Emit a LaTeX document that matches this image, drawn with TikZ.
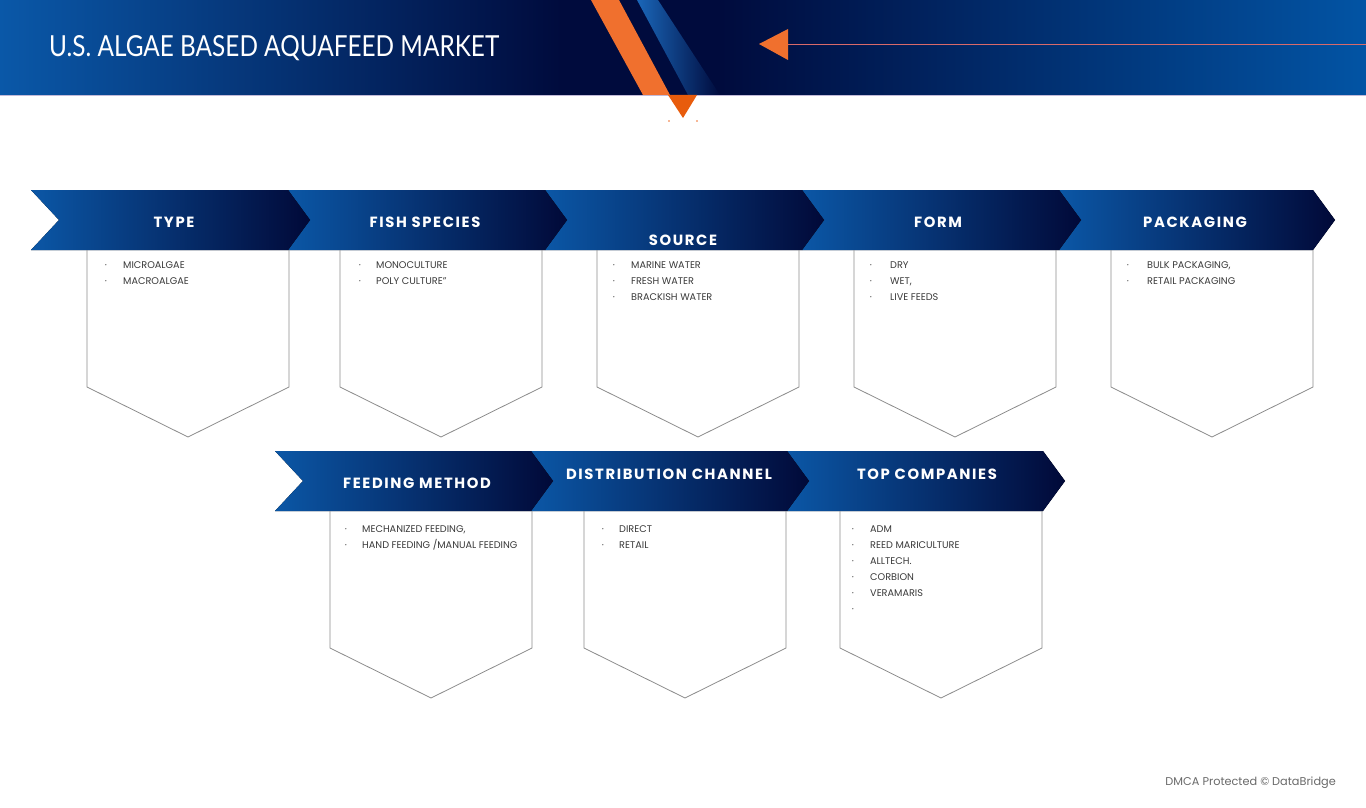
\documentclass[tikz,border=0pt]{standalone}
\usepackage{fontspec}
\setmainfont{Poppins}
\newfontfamily\titlefont{Lato}
\newfontfamily\headfont[LetterSpace=11]{Poppins}
\definecolor{bandblue}{HTML}{0A58A8}
\definecolor{bandblueR}{HTML}{0254A4}
\definecolor{navy}{HTML}{000B3D}
\definecolor{streak}{HTML}{1A66B8}
\definecolor{chevblue}{HTML}{0B57A6}
\definecolor{chevnavy}{HTML}{010938}
\definecolor{orng}{HTML}{F0702E}
\definecolor{orngdark}{HTML}{E85C0C}
\definecolor{redline}{HTML}{D86A6A}
\definecolor{bandline}{HTML}{C2BAD8}
\definecolor{boxline}{HTML}{8C8C8C}
\definecolor{txt}{HTML}{3A3A3A}
\definecolor{foot}{HTML}{6A6A6A}
\tikzset{
  chevfill/.style={left color=chevblue, right color=chevnavy},
  boxstyle/.style={draw=boxline, line width=0.8pt},
  chevlabel/.style={text=white, inner sep=0pt, font=\headfont\bfseries\fontsize{14.8}{17}\selectfont},
  itemtext/.style={text=txt, inner sep=0pt, anchor=base west, font=\fontsize{9.7}{11}\selectfont},
  bulletdot/.style={text=txt, inner sep=0pt, anchor=base, font=\fontsize{9.7}{11}\selectfont},
}
% chevron: #1 start x, #2 top y, #3 width, #4 notch depth
\newcommand\chevshape[4]{%
  \fill[chevfill] (#1,#2) -- ({#1+#3},#2) -- ({#1+#3+22},{#2+30}) -- ({#1+#3},{#2+60})
     -- (#1,{#2+60}) -- ({#1+#4},{#2+30}) -- cycle;}
% box: #1 left x, #2 top y
\newcommand\itembox[2]{%
  \draw[boxstyle] (#1,#2) -- (#1,{#2+137}) -- ({#1+101},{#2+187}) -- ({#1+202},{#2+137}) -- ({#1+202},#2);}
% items: #1 bullet x, #2 text x, #3 first baseline y, #4 name prefix, #5 list
\newcommand\itemlist[5]{%
  \foreach \t [count=\i] in {#5} {
    \node[bulletdot] (#4b\i) at (#1,{#3+16*(\i-1)}) {·};
    \node[itemtext] (#4t\i) at (#2,{#3+16*(\i-1)}) {\t};
  }}
\begin{document}
\begin{tikzpicture}[x=1pt,y=-1pt]
\useasboundingbox (0,0) rectangle (1366,808);
\fill[white] (0,0) rectangle (1366,808);
% header band
\shade[left color=bandblue, right color=navy] (0,0) rectangle (561,95);
\fill[navy] (560,0) rectangle (721,95);
\shade[left color=navy, right color=bandblueR] (720,0) rectangle (1366,95);
\shade[left color=streak, right color=navy] (637,0) -- (658,0) -- (720,95) -- (688,95) -- cycle;
\fill[orng] (591,0) -- (619,0) -- (670,95) -- (643,95) -- cycle;
\draw[bandline, line width=0.8pt] (0,95.4) -- (1366,95.4);
\fill[orngdark] (668,95) -- (697,95) -- (683,118) -- cycle;
\fill[orng] (669,121) circle (0.9);
\fill[orng] (697,121) circle (0.9);
% arrow
\fill[orng] (759,44) -- (788,29) -- (788,60) -- cycle;
\coordinate (arrowbase) at (788,44);
\coordinate (lineend) at (1366,44);
\draw[redline, line width=0.8pt] (arrowbase) -- (lineend);
% title
\node[anchor=base west, inner sep=0pt, text=white] (title) at (49,57)
  {\resizebox{450pt}{21pt}{\titlefont U.S. ALGAE BASED AQUAFEED MARKET}};
% row 1 chevrons (right to left so tips overlay)
\chevshape{1059}{190}{254}{22}
\chevshape{802}{190}{257}{22}
\chevshape{545}{190}{257}{22}
\chevshape{288}{190}{257}{22}
\chevshape{31}{190}{257}{28}
\node[chevlabel] (typeL) at (174,222) {TYPE};
\node[chevlabel] (fishL) at (425,222) {FISH SPECIES};
\node[chevlabel] (sourceL) at (683,240) {SOURCE};
\node[chevlabel] (formL) at (938,222) {FORM};
\node[chevlabel] (packL) at (1195,222) {PACKAGING};
% row 2 chevrons
\chevshape{787}{451}{256}{22}
\chevshape{531}{451}{256}{22}
\chevshape{275}{451}{256}{28}
\node[chevlabel] (feedL) at (417,483) {FEEDING METHOD};
\node[chevlabel] (distL) at (669,474) {DISTRIBUTION CHANNEL};
\node[chevlabel] (topL) at (927,474) {TOP COMPANIES};
% boxes row 1
\itembox{87}{250}
\itembox{340}{250}
\itembox{597}{250}
\itembox{854}{250}
\itembox{1111}{250}
% boxes row 2
\itembox{330}{511}
\itembox{584}{511}
\itembox{840}{511}
% items
\itemlist{106}{123}{268}{ty}{MICROALGAE,MACROALGAE}
\itemlist{360}{376}{268}{fi}{MONOCULTURE,POLY CULTURE"}
\itemlist{614}{631}{268}{so}{MARINE WATER,FRESH WATER,BRACKISH WATER}
\itemlist{871}{890}{268}{fo}{DRY,{WET,},LIVE FEEDS}
\itemlist{1128}{1147}{268}{pa}{{BULK PACKAGING,},RETAIL PACKAGING}
\itemlist{346}{362}{532}{fe}{{MECHANIZED FEEDING,},HAND FEEDING /MANUAL FEEDING}
\itemlist{603}{619}{532}{di}{DIRECT,RETAIL}
\itemlist{853}{870}{532}{tc}{ADM,REED MARICULTURE,ALLTECH.,CORBION,VERAMARIS}
\node[bulletdot] (tcb6) at (853,612) {·};
% footer
\node[anchor=base east, inner sep=0pt, text=foot, font=\fontsize{11.3}{13}\selectfont] (footer) at (1336,785)
  {DMCA Protected © DataBridge};
\end{tikzpicture}
\end{document}
